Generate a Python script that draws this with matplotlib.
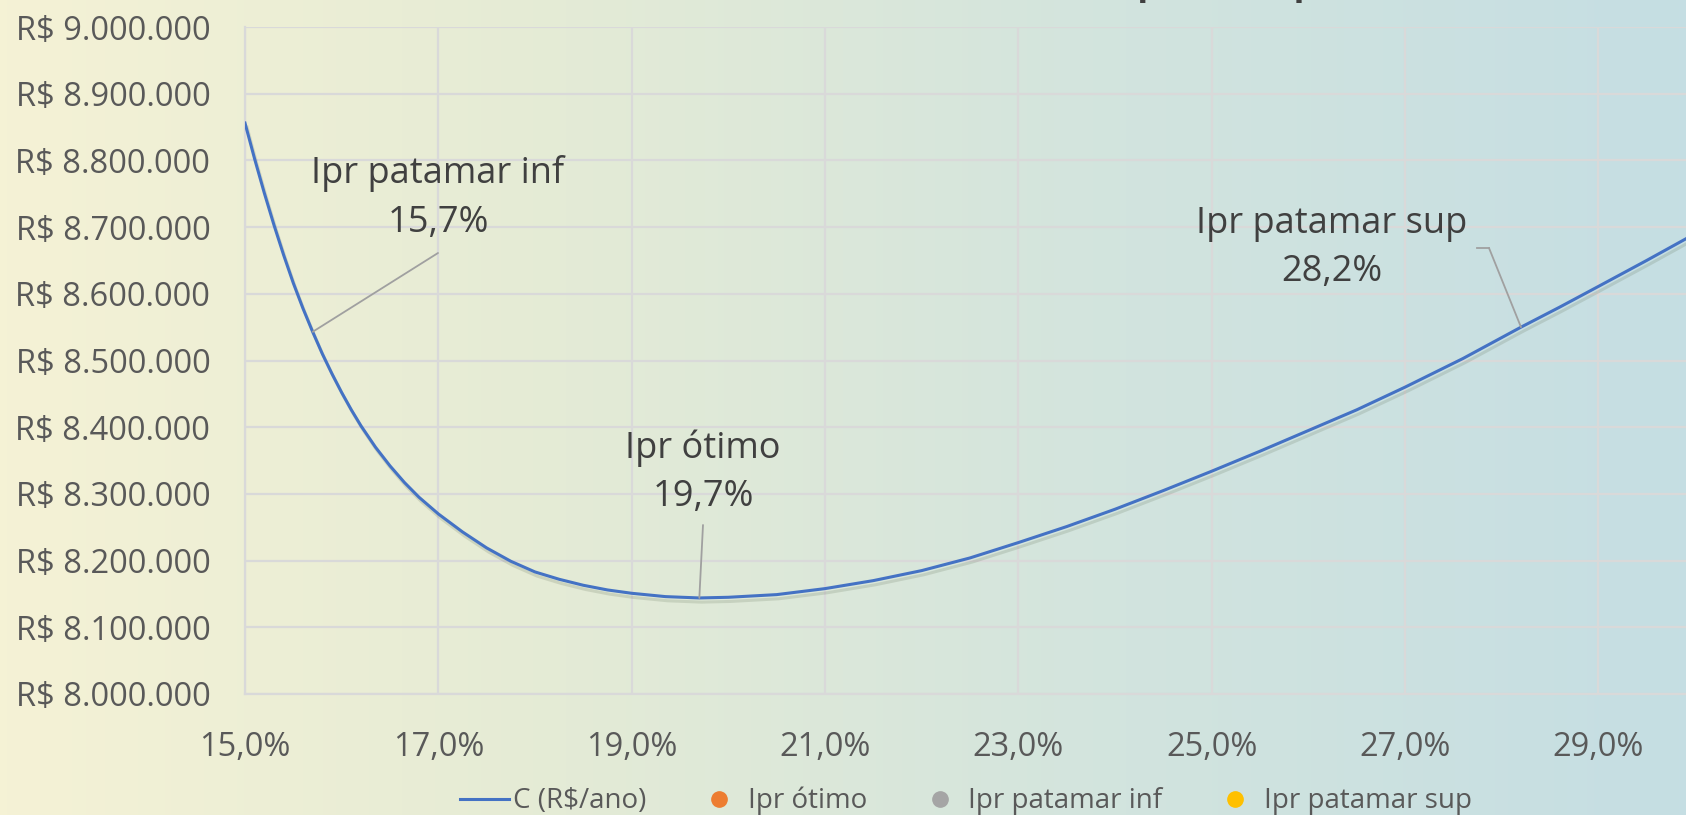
import numpy as np
import matplotlib.pyplot as plt
import matplotlib.patheffects as pe
from matplotlib.colors import LinearSegmentedColormap
from matplotlib.lines import Line2D
from matplotlib.ticker import FuncFormatter, MultipleLocator

plt.rcParams['font.family'] = ['Open Sans', 'DejaVu Sans']

# Ipr (%) and annual cost (R$)
ipr = [15.0, 15.1, 15.2, 15.3, 15.4, 15.5, 15.6, 15.7, 15.8, 15.9, 16.0, 16.1, 16.2,
       16.35, 16.5, 16.65, 16.8, 17.0, 17.25, 17.5, 17.75, 18.0, 18.25, 18.5, 18.75,
       19.0, 19.35, 19.7, 20.0, 20.5, 21.0, 21.5, 22.0, 22.5, 23.0, 23.5, 24.0, 24.5,
       25.0, 25.5, 26.0, 26.5, 27.0, 27.6, 28.2, 28.6, 29.0, 29.5, 30.0]
custo = [8856000, 8802000, 8751000, 8703000, 8658000, 8616000, 8578000, 8543000, 8510000,
         8480000, 8452000, 8426000, 8402000, 8370000, 8342000, 8317000, 8295000, 8270000,
         8243000, 8219000, 8199000, 8183000, 8172000, 8163000, 8156000, 8151000, 8146000,
         8144000, 8145000, 8149000, 8158000, 8170000, 8185000, 8204000, 8227000, 8251000,
         8277000, 8305000, 8334000, 8364000, 8395000, 8426000, 8460000, 8503000, 8550000,
         8580000, 8611000, 8650000, 8690000]

# highlighted points
pt_names = ['Ipr ótimo', 'Ipr patamar inf', 'Ipr patamar sup']
pt_ipr = [19.7, 15.7, 28.2]
pt_custo = [8144000, 8543000, 8550000]
pt_colors = ['#ED7D31', '#A5A5A5', '#FFC000']

x_ticks = [15, 17, 19, 21, 23, 25, 27, 29]

W, H = 1686, 815
fig = plt.figure(figsize=(W / 100, H / 100), dpi=100)

# background gradient (yellow -> light blue)
bg = fig.add_axes([0, 0, 1, 1], zorder=-10)
cmap = LinearSegmentedColormap.from_list('bg', ['#F5F2D5', '#E4EBD6', '#D2E4DE', '#C5DEE3'])
grad = np.linspace(0, 1, 512)[None, :]
bg.imshow(grad, aspect='auto', cmap=cmap, extent=[0, 1, 0, 1])
bg.axis('off')

ax = fig.add_axes([245 / W, 1 - 694 / H, 1450 / W, 667 / H])
ax.patch.set_alpha(0)

ax.plot(ipr, custo, color='#4472C4', lw=2.2, solid_joinstyle='round',
        path_effects=[pe.SimpleLineShadow(offset=(1.5, -3), shadow_color='#5a6a50', alpha=0.18),
                      pe.Normal()], zorder=3)

ax.set_xlim(15, 30)
ax.set_ylim(8000000, 9000000)
ax.set_xticks(x_ticks)
ax.yaxis.set_major_locator(MultipleLocator(100000))
ax.xaxis.set_major_formatter(FuncFormatter(lambda v, p: f'{v:.1f}%'.replace('.', ',')))
ax.yaxis.set_major_formatter(FuncFormatter(lambda v, p: 'R$ ' + f'{v:,.0f}'.replace(',', '.')))
ax.tick_params(length=0, labelsize=23.5, colors='#595959')
ax.tick_params(axis='y', pad=25)
ax.tick_params(axis='x', pad=27)
ax.grid(True, color='#D9D9D9', lw=1.6)
ax.set_axisbelow(True)
for s in ['top', 'right']:
    ax.spines[s].set_visible(False)
for s in ['left', 'bottom']:
    ax.spines[s].set_color('#D9D9D9')
    ax.spines[s].set_linewidth(1.6)

# data labels with leader lines
lab_kw = dict(fontsize=26, color='#404040', ha='center', va='center', linespacing=1.45)
lead_kw = dict(arrowstyle='-', color='#A0A0A0', lw=1.3, shrinkA=0, shrinkB=0)
ax.annotate(f'{pt_names[1]}\n{pt_ipr[1]:.1f}%'.replace('.', ','),
            xy=(pt_ipr[1], pt_custo[1]), xytext=(438, H - 198), textcoords='figure pixels',
            **lab_kw)
ax.annotate('', xy=(pt_ipr[1], pt_custo[1]), xytext=(438, H - 253),
            textcoords='figure pixels', arrowprops=lead_kw)
ax.annotate(f'{pt_names[0]}\n{pt_ipr[0]:.1f}%'.replace('.', ','),
            xy=(pt_ipr[0], pt_custo[0]), xytext=(703, H - 472), textcoords='figure pixels',
            **lab_kw)
ax.annotate('', xy=(pt_ipr[0], pt_custo[0]), xytext=(703, H - 525),
            textcoords='figure pixels', arrowprops=lead_kw)
ax.annotate(f'{pt_names[2]}\n{pt_ipr[2]:.1f}%'.replace('.', ','),
            xy=(pt_ipr[2], pt_custo[2]), xytext=(1332, H - 248), textcoords='figure pixels',
            **lab_kw)
ax.annotate('', xy=(pt_ipr[2], pt_custo[2]), xytext=(1489, H - 248),
            textcoords='figure pixels', arrowprops=lead_kw)
fig.add_artist(Line2D([1477 / W, 1489 / W], [1 - 248 / H, 1 - 248 / H], color='#A0A0A0', lw=1.3))

# title, mostly cut off at the top edge as in the reference
fig.text(1345 / W, 1 + 6 / H, 'Custo total x Índice de perdas (Ipr)',
         ha='right', va='baseline', fontsize=26, fontweight='bold', color='#404040')

handles = [Line2D([], [], color='#4472C4', lw=2.2, label='C (R$/ano)')]
for n, c in zip(pt_names, pt_colors):
    handles.append(Line2D([], [], ls='none', marker='o', ms=11, color=c, label=n))
fig.legend(handles=handles, loc='center', bbox_to_anchor=(966 / W, 1 - 801 / H), ncol=4,
           frameon=False, fontsize=20, labelcolor='#595959', handlelength=1.75,
           handletextpad=0.15, columnspacing=1.75)

fig.savefig('out.png', dpi=100)
